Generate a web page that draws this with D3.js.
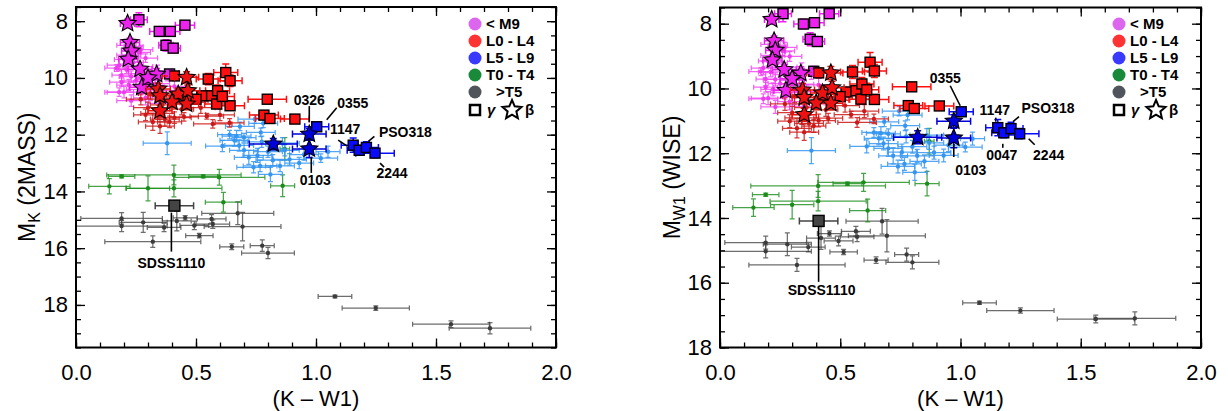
<!DOCTYPE html>
<html><head><meta charset="utf-8">
<script src="https://cdn.jsdelivr.net/npm/d3@7"></script>
<style>
body{margin:0;background:#fff}
svg{display:block}
text{font-family:"Liberation Sans",Arial,Helvetica,sans-serif}
</style>
</head><body>
<svg id="c" width="1228" height="411"></svg>
<script>
// ---------------- DATA ----------------
// every row: [K-W1, M_K (2MASS), M_W1 (WISE), sigma(K-W1), sigma(M)]
const xTicks = [0.0, 0.5, 1.0, 1.5, 2.0];
const yTicks = [8, 10, 12, 14, 16, 18];
const legendLabels = ["< M9", "L0 - L4", "L5 - L9", "T0 - T4", ">T5"];

// field dwarfs
const fieldM9 = [
 [0.20,9.35,9.15,0.04,0.15],[0.22,9.20,8.98,0.05,0.12],[0.18,9.55,9.37,0.05,0.20],[0.24,9.45,9.21,0.04,0.15],
 [0.26,9.60,9.34,0.06,0.18],[0.21,9.70,9.49,0.05,0.15],[0.19,9.90,9.71,0.04,0.20],[0.23,9.95,9.72,0.05,0.20],
 [0.28,9.85,9.57,0.06,0.15],[0.25,10.10,9.85,0.05,0.20],[0.30,10.05,9.75,0.05,0.20],[0.33,10.20,9.87,0.06,0.20],
 [0.22,10.25,10.03,0.05,0.20],[0.27,10.40,10.13,0.06,0.20],[0.20,10.50,10.30,0.07,0.20],[0.31,10.55,10.24,0.05,0.25],
 [0.36,10.45,10.09,0.06,0.20],[0.24,8.90,8.66,0.04,0.15],[0.26,9.10,8.84,0.05,0.15],[0.29,9.30,9.01,0.05,0.15],
 [0.17,9.65,9.48,0.05,0.12],[0.34,9.75,9.41,0.06,0.20],[0.38,9.95,9.57,0.05,0.15],[0.29,10.70,10.41,0.05,0.25],
 [0.41,10.30,9.89,0.06,0.20],[0.23,10.80,10.57,0.06,0.20],[0.35,10.90,10.55,0.05,0.20],[0.19,10.15,9.96,0.05,0.15],
 [0.44,10.75,10.31,0.05,0.20],[0.27,9.00,8.73,0.05,0.15],[0.18,10.50,10.32,0.06,0.15],[0.21,8.85,8.64,0.04,0.20]
];
const fieldL0 = [
 [0.30,11.05,10.75,0.06,0.20],[0.34,11.25,10.91,0.07,0.20],[0.37,11.45,11.08,0.06,0.25],[0.41,11.40,10.99,0.07,0.20],
 [0.45,11.37,10.92,0.06,0.15],[0.545,11.35,10.81,0.07,0.10],[0.57,11.62,11.05,0.08,0.15],[0.64,11.58,10.94,0.06,0.15],
 [0.32,11.55,11.23,0.06,0.30],[0.39,11.55,11.16,0.05,0.20],[0.27,10.75,10.48,0.06,0.20],[0.36,10.95,10.59,0.05,0.20],
 [0.42,10.70,10.28,0.06,0.20],[0.48,10.85,10.37,0.06,0.20],[0.31,10.55,10.24,0.05,0.20],[0.52,11.05,10.53,0.06,0.20],
 [0.60,11.30,10.70,0.06,0.20],[0.44,11.10,10.66,0.05,0.20],[0.29,11.30,11.01,0.05,0.20],[0.35,11.70,11.35,0.06,0.25]
];
const fieldL5 = [
 [0.38,12.30,11.92,0.10,0.40],[0.683,11.71,11.03,0.06,0.15],[0.64,12.00,11.36,0.05,0.15],[0.669,12.05,11.38,0.06,0.20],
 [0.70,12.10,11.40,0.05,0.15],[0.61,12.40,11.79,0.07,0.20],[0.68,12.38,11.70,0.06,0.20],[0.70,12.55,11.85,0.06,0.25],
 [0.745,11.45,10.70,0.07,0.15],[0.77,11.92,11.15,0.06,0.15],[0.774,12.25,11.48,0.06,0.20],[0.756,12.73,11.97,0.06,0.25],
 [0.767,13.10,12.33,0.07,0.20],[0.82,12.90,12.08,0.07,0.20],[0.85,13.10,12.25,0.06,0.20],[0.87,12.55,11.68,0.06,0.20],
 [0.89,12.87,11.98,0.07,0.20],[0.93,13.00,12.07,0.06,0.20],[1.02,12.83,11.81,0.07,0.15],[0.81,13.40,12.59,0.05,0.25],
 [0.74,13.15,12.41,0.07,0.20],[0.80,12.60,11.80,0.06,0.20],[0.72,12.80,12.08,0.06,0.25],[0.95,12.70,11.75,0.06,0.20],
 [0.66,12.20,11.54,0.06,0.20],[0.86,12.30,11.44,0.07,0.20],[1.05,12.60,11.55,0.05,0.20],[0.78,11.60,10.82,0.06,0.15]
];
const fieldT = [
 [0.19,13.47,13.28,0.055,0.05],[0.139,13.82,13.68,0.086,0.27],[0.30,13.89,13.59,0.09,0.44],[0.408,13.42,13.01,0.28,0.35],
 [0.408,13.89,13.48,0.20,0.30],[0.53,13.47,12.94,0.06,0.05],[0.597,13.50,12.90,0.19,0.28],[0.614,14.38,13.77,0.075,0.35],
 [0.861,13.80,12.94,0.05,0.38],[0.87,12.50,11.63,0.02,0.40]
];
const fieldY = [
 [0.19,14.95,14.76,0.17,0.20],[0.19,15.22,15.03,0.19,0.20],[0.28,15.09,14.81,0.10,0.35],[0.367,15.27,14.90,0.07,0.15],
 [0.32,15.77,15.45,0.20,0.20],[0.42,15.04,14.62,0.06,0.35],[0.455,14.93,14.48,0.05,0.08],[0.493,15.20,14.71,0.06,0.15],
 [0.514,15.56,15.05,0.057,0.08],[0.565,14.97,14.41,0.06,0.15],[0.57,15.15,14.58,0.07,0.15],[0.674,14.77,14.10,0.15,0.40],
 [0.694,15.24,14.55,0.16,0.50],[0.649,15.95,15.30,0.05,0.10],[0.776,15.91,15.13,0.05,0.20],[0.80,16.17,15.37,0.11,0.20],
 [1.079,17.70,16.62,0.07,0.05],[1.249,18.11,16.86,0.14,0.08],[1.5625,18.68,17.12,0.16,0.12],[1.725,18.82,17.10,0.17,0.20]
];
// young: gamma (squares) and beta (stars)
const gammaM9 = [
 [0.262,7.95,7.69,0.035,0.25],[0.347,8.36,8.01,0.04,0.15],[0.393,8.36,7.97,0.04,0.12],[0.454,8.14,7.69,0.04,0.10],
 [0.375,8.85,8.48,0.03,0.20],[0.405,8.95,8.55,0.03,0.15],[0.39,9.86,9.47,0.04,0.15]
];
const betaM9 = [
 [0.215,8.08,7.87,0.03,0.15],[0.225,8.75,8.53,0.04,0.15],[0.23,9.05,8.82,0.04,0.15],[0.218,9.34,9.12,0.04,0.15],
 [0.267,9.69,9.42,0.05,0.15],[0.336,9.87,9.53,0.05,0.20],[0.274,10.33,10.06,0.05,0.20],[0.30,10.00,9.70,0.05,0.20]
];
const gammaL0 = [
 [0.41,9.93,9.52,0.05,0.15],[0.551,10.04,9.49,0.05,0.20],[0.624,9.81,9.19,0.05,0.30],[0.642,10.10,9.46,0.05,0.20],
 [0.524,10.63,10.11,0.05,0.15],[0.565,10.63,10.07,0.05,0.15],[0.59,10.45,9.86,0.05,0.20],[0.586,10.92,10.33,0.05,0.15],
 [0.642,10.98,10.34,0.06,0.15],[0.797,10.75,9.95,0.08,0.10],[0.783,11.31,10.53,0.06,0.10],[0.808,11.43,10.62,0.06,0.10],
 [0.912,11.45,10.54,0.06,0.08],[0.61,10.65,10.04,0.05,0.20],[0.50,10.75,10.25,0.05,0.15]
];
const betaL0 = [
 [0.461,9.98,9.52,0.05,0.20],[0.343,10.39,10.05,0.05,0.20],[0.35,10.63,10.28,0.05,0.20],[0.35,11.16,10.81,0.05,0.20],
 [0.426,10.57,10.14,0.05,0.20],[0.466,10.45,9.98,0.05,0.20],[0.461,10.92,10.46,0.05,0.20],[0.40,10.85,10.45,0.05,0.20]
];
const gammaL5Names = ["0355", "1147", "0047", "PSO318", "2244"];
const gammaL5 = [
 [1.003,11.72,10.72,0.05,0.10],[1.155,12.37,11.21,0.05,0.25],[1.18,12.55,11.37,0.05,0.15],
 [1.21,12.45,11.24,0.05,0.20],[1.246,12.65,11.40,0.08,0.15]
];
const betaL5Names = ["", "0326", "0103"];
const betaL5 = [
 [0.822,12.33,11.51,0.10,0.20],[0.972,11.98,11.01,0.07,0.20],[0.972,12.50,11.53,0.07,0.30]
];
const gammaTName = "SDSS1110";
const gammaT = [[0.41,14.50,14.09,0.08,0.10]];

// ---------------- DRAWING ----------------
const svg = d3.select("#c");
const FONT = '"Liberation Sans",Arial,Helvetica,sans-serif';

const panels = [
 {xr:[76,556], yr:[7,347.5], yd:[7.5,19.5], col:1, t1:"K", t2:" (2MASS)", tx:27, legX:475,
  ann:[ // [group, index, label dx, label dy, leader x1,y1,x2,y2] offsets in px from the marker
   ["b",1,"0326",0,-34,0,-28,0,-12],
   ["g",0,"0355",36,-24,10,-7,20,-19],
   ["g",1,"1147",-8,-16,-15,-5,-6,1],
   ["g",3,"PSO318",39,-15,2,-6,8,-11],
   ["g",4,"2244",17,20,5,10,9,14],
   ["b",2,"0103",6,31,2,8,2,24],
   ["t",0,"SDSS1110",-3,57,-3,7,-3,46]
  ]},
 {xr:[720,1201], yr:[7.5,347.5], yd:[7.5,18], col:2, t1:"W1", t2:" (WISE)", tx:672, legX:1119,
  ann:[
   ["g",0,"0355",-16,-34,-11,-26,-1,-6],
   ["g",1,"1147",-3,-18,-2,-10,-2,-6],
   ["g",3,"PSO318",37,-21,2,-7,8,-12],
   ["g",2,"0047",-2,22,-1,11,-1,15],
   ["g",4,"2244",29,21,9,5,15,11],
   ["b",2,"0103",17,32,0,6,0,19],
   ["t",0,"SDSS1110",3,69,0,6,0,61]
  ]}
];

function starPath(cx, cy, R){
  const r = R*0.46; let d = "";
  for(let i=0;i<10;i++){
    const a = -Math.PI/2 + i*Math.PI/5, rr = i%2 ? r : R;
    d += (i?"L":"M") + (cx+rr*Math.cos(a)).toFixed(2) + "," + (cy+rr*Math.sin(a)).toFixed(2);
  }
  return d + "Z";
}

panels.forEach((p, pi) => {
  const x = d3.scaleLinear().domain([0,2]).range(p.xr);
  const y = d3.scaleLinear().domain(p.yd).range(p.yr);
  const c = p.col;
  const g = svg.append("g");
  const clipId = "clip"+pi;
  svg.append("clipPath").attr("id",clipId).append("rect")
    .attr("x",p.xr[0]).attr("y",p.yr[0]).attr("width",p.xr[1]-p.xr[0]).attr("height",p.yr[1]-p.yr[0]);
  const plot = g.append("g").attr("clip-path",`url(#${clipId})`);

  function errPath(r, cap){
    const cx=x(r[0]), cy=y(r[c]), xl=x(r[0]-r[3]), xh=x(r[0]+r[3]), yl=y(r[c]-r[4]), yh=y(r[c]+r[4]);
    return `M${xl},${cy}H${xh}M${xl},${cy-cap}V${cy+cap}M${xh},${cy-cap}V${cy+cap}`+
           `M${cx},${yl}V${yh}M${cx-cap},${yl}H${cx+cap}M${cx-cap},${yh}H${cx+cap}`;
  }
  function field(rows, col, op){
    const gg = plot.append("g");
    gg.selectAll("path").data(rows).join("path").attr("d", r=>errPath(r,2.5))
      .attr("fill","none").attr("stroke",col).attr("stroke-width",1.25).attr("stroke-opacity",op);
    gg.selectAll("circle").data(rows).join("circle").attr("cx",r=>x(r[0])).attr("cy",r=>y(r[c]))
      .attr("r",2.2).attr("fill",col);
  }
  field(fieldY, "#3c3c3c", 0.75);
  field(fieldT, "#1a8c1a", 0.8);
  field(fieldL5, "#3596f2", 0.85);
  field(fieldM9, "#f03cf0", 0.8);
  field(fieldL0, "#cc1818", 0.85);

  function bigErr(rows, col){
    plot.append("g").selectAll("path").data(rows).join("path").attr("d", r=>errPath(r,3.5))
      .attr("fill","none").attr("stroke",col).attr("stroke-width",1.5);
  }
  function squares(rows, col, s){
    bigErr(rows, col);
    plot.append("g").selectAll("rect").data(rows).join("rect")
      .attr("x",r=>x(r[0])-s/2).attr("y",r=>y(r[c])-s/2).attr("width",s).attr("height",s)
      .attr("fill",col).attr("stroke","#000").attr("stroke-width",1.4);
  }
  function stars(rows, col){
    bigErr(rows, col);
    plot.append("g").selectAll("path").data(rows).join("path")
      .attr("d",r=>starPath(x(r[0]), y(r[c]), 9))
      .attr("fill",col).attr("stroke","#000").attr("stroke-width",1.1);
  }
  squares(gammaM9, "#ee22ee", 10);
  squares(gammaL0, "#ff1010", 10);
  stars(betaM9, "#ee22ee");
  stars(betaL0, "#ee1111");
  squares(gammaT, "#444444", 11);
  squares(gammaL5, "#0a0aff", 10);
  stars(betaL5, "#0000d8");

  // annotations
  const grp = {g:gammaL5, b:betaL5, t:gammaT};
  const ag = g.append("g");
  p.ann.forEach(a => {
    const r = grp[a[0]][a[1]];
    const px = x(r[0]), py = y(r[c]);
    ag.append("line").attr("x1",px+a[5]).attr("y1",py+a[6]).attr("x2",px+a[7]).attr("y2",py+a[8])
      .attr("stroke","#000").attr("stroke-width",1.6);
    ag.append("text").attr("x",px+a[3]).attr("y",py+a[4]).attr("dy","0.36em")
      .attr("text-anchor","middle").attr("font-weight","bold").attr("font-size",14).text(a[2]);
  });

  // axes
  const minorX = d3.range(0, 21).map(i => i/10);
  const minorY = d3.range(Math.round(p.yd[0]*2), Math.round(p.yd[1]*2)+1).map(i => i/2);
  const axes = g.append("g");
  function addAxis(axis, tr){
    const a = axes.append("g").attr("transform",tr).call(axis);
    a.select(".domain").remove();
    a.selectAll("line").attr("stroke","#000").attr("stroke-width",1.3);
    a.selectAll("text").attr("font-size",22).attr("fill","#000").style("font-family",FONT);
    return a;
  }
  addAxis(d3.axisBottom(x).tickValues(minorX).tickSize(-5).tickFormat(""), `translate(0,${p.yr[1]})`);
  addAxis(d3.axisBottom(x).tickValues(xTicks).tickSize(-9).tickPadding(17).tickFormat(d3.format(".1f")), `translate(0,${p.yr[1]})`);
  addAxis(d3.axisTop(x).tickValues(minorX).tickSize(-5).tickFormat(""), `translate(0,${p.yr[0]})`);
  addAxis(d3.axisTop(x).tickValues(xTicks).tickSize(-9).tickFormat(""), `translate(0,${p.yr[0]})`);
  addAxis(d3.axisLeft(y).tickValues(minorY).tickSize(-5).tickFormat(""), `translate(${p.xr[0]},0)`);
  addAxis(d3.axisLeft(y).tickValues(yTicks).tickSize(-9).tickPadding(8).tickFormat(d3.format("d")), `translate(${p.xr[0]},0)`);
  addAxis(d3.axisRight(y).tickValues(minorY).tickSize(-5).tickFormat(""), `translate(${p.xr[1]},0)`);
  addAxis(d3.axisRight(y).tickValues(yTicks).tickSize(-9).tickFormat(""), `translate(${p.xr[1]},0)`);
  g.append("rect").attr("x",p.xr[0]).attr("y",p.yr[0]).attr("width",p.xr[1]-p.xr[0]).attr("height",p.yr[1]-p.yr[0])
    .attr("fill","none").attr("stroke","#000").attr("stroke-width",2);

  // titles
  g.append("text").attr("x",(p.xr[0]+p.xr[1])/2).attr("y",406).attr("text-anchor","middle")
    .attr("font-size",22).text("(K \u2013 W1)");
  const yt = g.append("text").attr("transform",`translate(${p.tx},${(p.yr[0]+p.yr[1])/2}) rotate(-90)`)
    .attr("text-anchor","middle").attr("font-size",23).attr("dy","0.35em");
  yt.append("tspan").text("M");
  yt.append("tspan").attr("font-size",16).attr("dy",5).text(p.t1);
  yt.append("tspan").attr("dy",-5).text(p.t2);

  // legend
  const legCols = ["#dd66ee","#ff3333","#3a3aff","#1a8a3a","#50555b"];
  const lg = g.append("g");
  legendLabels.forEach((t,i) => {
    const ly = 24 + 17*i;
    lg.append("circle").attr("cx",p.legX).attr("cy",ly).attr("r",6.5).attr("fill",legCols[i]);
    lg.append("text").attr("x",p.legX + (i===4 ? 21 : 11)).attr("y",ly).attr("dy","0.36em")
      .attr("font-weight","bold").attr("font-size",15).text(t);
  });
  const ly = 110;
  lg.append("rect").attr("x",p.legX-5).attr("y",ly-5).attr("width",10).attr("height",10)
    .attr("fill","none").attr("stroke","#000").attr("stroke-width",2.5);
  lg.append("text").attr("x",p.legX+12).attr("y",ly).attr("dy","0.36em").attr("font-style","italic")
    .attr("font-weight","bold").attr("font-size",15).text("\u03b3");
  lg.append("path").attr("d",starPath(p.legX+37, ly, 10)).attr("fill","none").attr("stroke","#000").attr("stroke-width",2);
  lg.append("text").attr("x",p.legX+50).attr("y",ly).attr("dy","0.36em")
    .attr("font-weight","bold").attr("font-size",15).text("\u03b2");
});
</script>
</body></html>
